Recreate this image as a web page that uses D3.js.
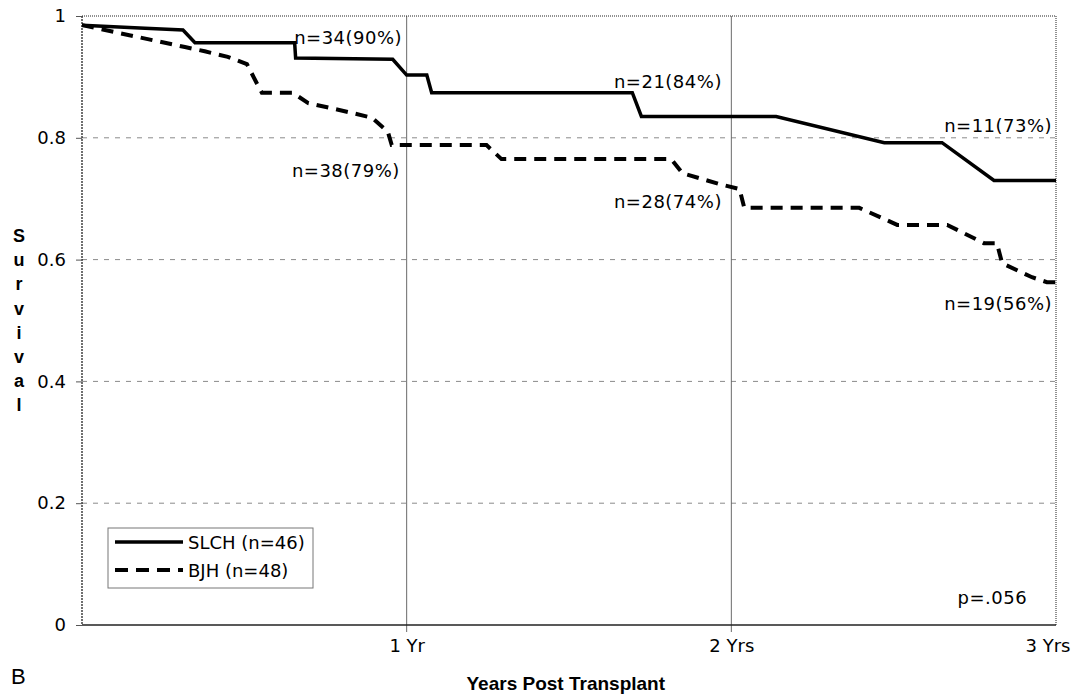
<!DOCTYPE html>
<html lang="en">
<head>
    <meta charset="UTF-8">
    <title>Survival - Years Post Transplant</title>
    <script src="https://d3js.org/d3.v7.min.js"></script>
    <style>
        body {
            margin: 0;
            background: #fff;
        }
        text {
            font-family: "DejaVu Sans", sans-serif;
            fill: #000;
        }
        .tick-label {
            font-size: 18px;
        }
        .note {
            font-size: 18px;
            letter-spacing: 0.5px;
        }
        .axis-title {
            font-family: "Liberation Sans", Arial, sans-serif;
            font-weight: bold;
            font-size: 19px;
        }
    </style>
</head>
<body>
    <svg id="chart" width="1073" height="700"></svg>

    <script>
        // years post transplant / survival for each hospital
        const slchYears = [0, 0.194, 0.311, 0.348, 0.655, 0.658, 0.957, 1.0, 1.062, 1.077, 1.695, 1.723, 2.138, 2.471, 2.649, 2.809, 3.0];
        const slchSurv  = [0.985, 0.980, 0.977, 0.956, 0.956, 0.931, 0.929, 0.903, 0.903, 0.874, 0.874, 0.835, 0.835, 0.792, 0.792, 0.730, 0.730];

        const bjhYears = [0, 0.317, 0.378, 0.449, 0.508, 0.538, 0.554, 0.649, 0.697, 0.764, 0.831, 0.893, 0.942, 0.954, 1.246, 1.292, 1.815, 1.849, 1.963, 2.025, 2.040, 2.394, 2.511, 2.665, 2.778, 2.818, 2.834, 2.926, 2.972, 3.0];
        const bjhSurv  = [0.985, 0.949, 0.942, 0.933, 0.921, 0.890, 0.874, 0.874, 0.857, 0.849, 0.841, 0.833, 0.810, 0.788, 0.788, 0.765, 0.765, 0.742, 0.724, 0.716, 0.685, 0.685, 0.657, 0.657, 0.627, 0.627, 0.594, 0.571, 0.563, 0.563];

        const series = [
            { name: "SLCH (n=46)", years: slchYears, surv: slchSurv, dash: null, width: 3.5 },
            { name: "BJH (n=48)", years: bjhYears, surv: bjhSurv, dash: "12,8", width: 4 }
        ];

        const yTicks = [0, 0.2, 0.4, 0.6, 0.8, 1];
        const yTickLabels = ["0", "0.2", "0.4", "0.6", "0.8", "1"];
        const xTicks = [1, 2, 3];
        const xTickLabels = ["1 Yr", "2 Yrs", "3 Yrs"];

        // at-risk annotations, anchored (end of text) in data units
        const noteText = ["n=34(90%)", "n=38(79%)", "n=21(84%)", "n=28(74%)", "n=11(73%)", "n=19(56%)", "p=.056"];
        const noteYear = [0.986, 0.979, 1.971, 1.971, 2.988, 2.988, 2.911];
        const noteSurv = [0.954, 0.736, 0.882, 0.685, 0.810, 0.517, 0.034];

        const svg = d3.select("#chart");
        const margin = { top: 16, right: 17, bottom: 75, left: 82 };
        const width = 1073 - margin.left - margin.right;
        const height = 700 - margin.top - margin.bottom;

        const x = d3.scaleLinear().domain([0, 3]).range([0, width]);
        const y = d3.scaleLinear().domain([0, 1]).range([height, 0]);

        const g = svg.append("g").attr("transform", `translate(${margin.left},${margin.top})`);

        // horizontal grid (dashed grey)
        g.append("g")
            .selectAll("line")
            .data(yTicks.filter(d => d > 0 && d < 1))
            .enter().append("line")
            .attr("x1", 0)
            .attr("x2", width)
            .attr("y1", d => y(d))
            .attr("y2", d => y(d))
            .attr("stroke", "#8a8a8a")
            .attr("stroke-width", 1)
            .attr("stroke-dasharray", "5,6");

        // vertical grid at whole years (solid grey, runs past the axis as a tick)
        g.append("g")
            .selectAll("line")
            .data(xTicks.filter(d => d < 3))
            .enter().append("line")
            .attr("x1", d => x(d))
            .attr("x2", d => x(d))
            .attr("y1", 0)
            .attr("y2", height + 7)
            .attr("stroke", "#6a6a6a")
            .attr("stroke-width", 1);

        // plot frame: dotted top / right / left, darker bottom
        g.append("line").attr("x1", 0).attr("x2", width).attr("y1", 0).attr("y2", 0)
            .attr("stroke", "#222").attr("stroke-dasharray", "1,1");
        g.append("line").attr("x1", width).attr("x2", width).attr("y1", 0).attr("y2", height)
            .attr("stroke", "#222").attr("stroke-dasharray", "1,1");
        g.append("line").attr("x1", 0).attr("x2", 0).attr("y1", 0).attr("y2", height)
            .attr("stroke", "#111").attr("stroke-width", 1.2).attr("stroke-dasharray", "2,1");
        g.append("line").attr("x1", 0).attr("x2", width).attr("y1", height).attr("y2", height)
            .attr("stroke", "#222").attr("stroke-width", 1.5);

        // y axis
        const yAxis = g.append("g")
            .call(d3.axisLeft(y).tickValues(yTicks).tickSize(6).tickPadding(10)
                .tickFormat((d, i) => yTickLabels[i]));
        yAxis.select(".domain").remove();
        yAxis.selectAll(".tick line").attr("stroke", "#555");
        yAxis.selectAll(".tick text")
            .attr("class", "tick-label")
            .style("font-family", "DejaVu Sans, sans-serif")
            .style("font-size", "18px")
            .attr("fill", "#000");

        // x axis labels
        const xAxis = g.append("g")
            .attr("transform", `translate(0,${height})`)
            .call(d3.axisBottom(x).tickValues(xTicks).tickSize(0).tickPadding(14)
                .tickFormat((d, i) => xTickLabels[i]));
        xAxis.select(".domain").remove();
        xAxis.selectAll(".tick text")
            .style("font-family", "DejaVu Sans, sans-serif")
            .style("font-size", "18px")
            .attr("fill", "#000")
            .attr("text-anchor", d => d === 3 ? "end" : "middle")
            .attr("dx", d => d === 3 ? "14px" : "0");

        // survival curves
        const line = d3.line()
            .x(d => x(d[0]))
            .y(d => y(d[1]));

        g.append("g")
            .selectAll("path")
            .data(series)
            .enter().append("path")
            .attr("d", s => line(d3.zip(s.years, s.surv)))
            .attr("fill", "none")
            .attr("stroke", "#000")
            .attr("stroke-width", s => s.width)
            .attr("stroke-dasharray", s => s.dash)
            .attr("stroke-linejoin", "miter");

        // annotations
        g.append("g")
            .selectAll("text")
            .data(noteText)
            .enter().append("text")
            .attr("class", "note")
            .attr("x", (d, i) => x(noteYear[i]))
            .attr("y", (d, i) => y(noteSurv[i]))
            .attr("text-anchor", "end")
            .text(d => d);

        // legend
        const legend = g.append("g").attr("transform", "translate(26,512)");
        legend.append("rect")
            .attr("width", 205)
            .attr("height", 60)
            .attr("fill", "#fff")
            .attr("stroke", "#777")
            .attr("stroke-width", 1);
        const item = legend.selectAll(".item")
            .data(series)
            .enter().append("g")
            .attr("class", "item")
            .attr("transform", (d, i) => `translate(0,${14 + i * 28})`);
        item.append("line")
            .attr("x1", 7)
            .attr("x2", 75)
            .attr("stroke", "#000")
            .attr("stroke-width", s => s.width)
            .attr("stroke-dasharray", s => s.dash ? "13,8" : null);
        item.append("text")
            .attr("x", 80)
            .attr("dy", "0.38em")
            .style("font-size", "18px")
            .text(s => s.name);

        // y title, letters stacked
        const yTitle = "Survival".split("");
        svg.append("g")
            .selectAll("text")
            .data(yTitle)
            .enter().append("text")
            .attr("class", "axis-title")
            .attr("x", 19)
            .attr("y", (d, i) => 242 + i * 24.2)
            .attr("text-anchor", "middle")
            .style("font-size", "18px")
            .text(d => d);

        // x title
        svg.append("text")
            .attr("class", "axis-title")
            .attr("x", margin.left + x(1.49))
            .attr("y", 690)
            .attr("text-anchor", "middle")
            .text("Years Post Transplant");

        // panel letter
        svg.append("text")
            .attr("x", 11)
            .attr("y", 684)
            .style("font-family", "Liberation Sans, Arial, sans-serif")
            .style("font-size", "22px")
            .text("B");
    </script>
</body>
</html>
